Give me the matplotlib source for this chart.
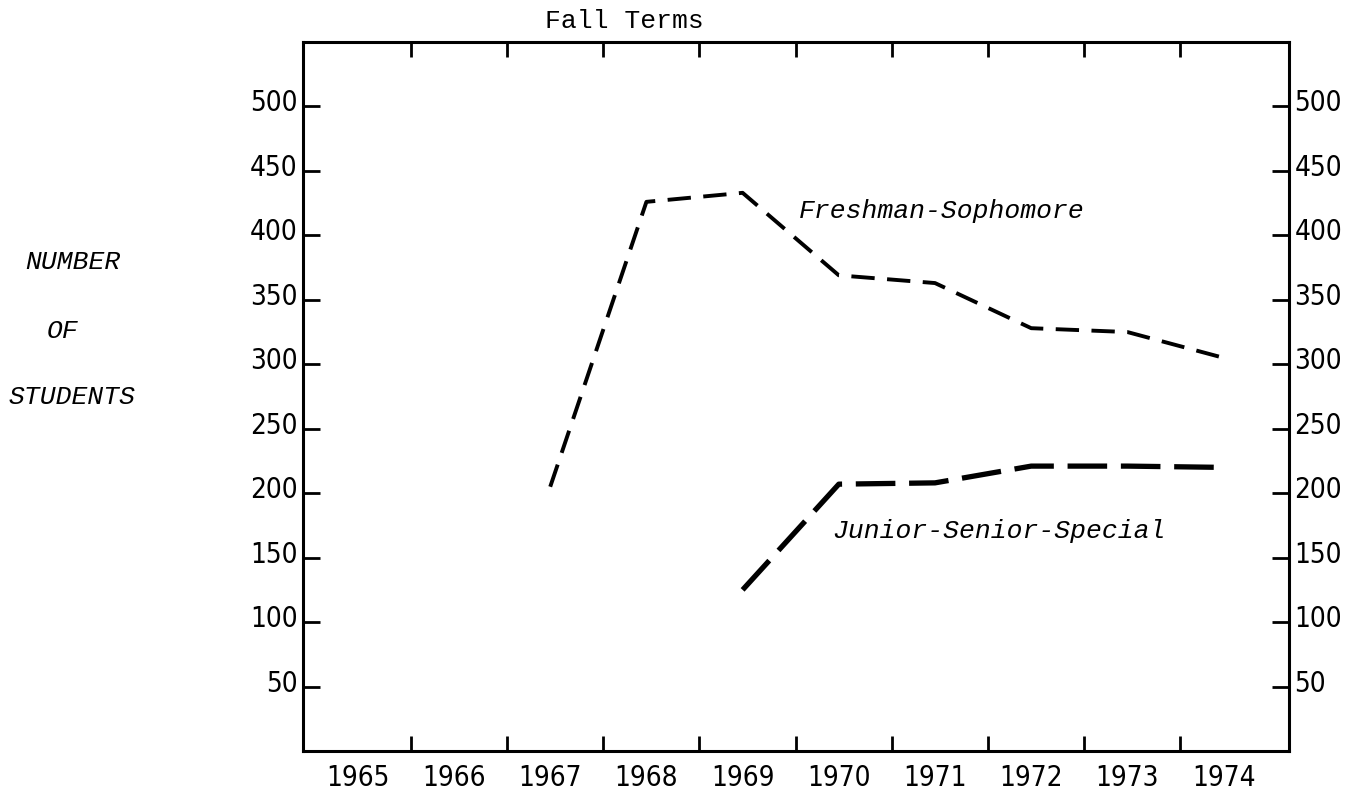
import numpy as np
import matplotlib
matplotlib.use('Agg')
import matplotlib.pyplot as plt
from matplotlib.transforms import ScaledTranslation

# ---- data ----
years = [1965, 1966, 1967, 1968, 1969, 1970, 1971, 1972, 1973, 1974]
fresh_years = [1967, 1968, 1969, 1970, 1971, 1972, 1973, 1974]
fresh_soph = [205, 426, 433, 369, 363, 328, 325, 305]
junior_years = [1969, 1970, 1971, 1972, 1973, 1974]
junior_senior = [125, 207, 208, 221, 221, 220]
y_ticks = [50, 100, 150, 200, 250, 300, 350, 400, 450, 500]

MONO = 'Liberation Mono'
NUM = dict(family='DejaVu Sans', stretch='condensed', size=20)

fig = plt.figure(figsize=(13.56, 7.91), dpi=100)
ax = fig.add_axes([303 / 1356, 1 - 751 / 791, 986 / 1356, 709 / 791])

ax.plot(fresh_years, fresh_soph, color='black', lw=2.8,
        dashes=(6.0, 3.2), solid_joinstyle='miter')
ax.plot(junior_years, junior_senior, color='black', lw=3.8,
        dashes=(7.5, 2.6))

ax.set_xlim(1964.43, 1974.68)
ax.set_ylim(0, 550)

for s in ax.spines.values():
    s.set_linewidth(2.2)

# year labels sit in the middle of the tick intervals
ax.set_xticks(years)
ax.set_xticklabels([str(y) for y in years], fontdict=NUM)
ax.tick_params(axis='x', which='major', length=0, pad=9)
ax.set_xticks([y + 0.55 for y in years[:-1]], minor=True)
ax.tick_params(axis='x', which='minor', direction='in', length=11, width=2,
               top=True, bottom=True)

ax.set_yticks(y_ticks)
ax.set_yticklabels([str(v) for v in y_ticks], fontdict=NUM)
ax.tick_params(axis='y', direction='in', length=12, width=2, pad=4,
               left=True, right=True, labelleft=True, labelright=True)
ax.yaxis.set_minor_locator(matplotlib.ticker.NullLocator())

# labels in the scan sit a little above their ticks
shift = ScaledTranslation(0, 6 / 100, fig.dpi_scale_trans)
for t in ax.yaxis.get_major_ticks():
    t.label1.set_transform(t.label1.get_transform() + shift)
    t.label2.set_transform(t.label2.get_transform() + shift)

ax.text(1969.58, 419, 'Freshman-Sophomore', family=MONO, style='italic',
        size=19, va='center', ha='left')
ax.text(1969.93, 171, 'Junior-Senior-Special', family=MONO, style='italic',
        size=19, va='center', ha='left')

fig.text(624 / 1356, 1 - 21 / 791, 'Fall Terms', family=MONO, size=19,
         ha='center', va='center')
fig.text(73 / 1356, 1 - 262 / 791, 'NUMBER', family=MONO, style='italic',
         size=19, ha='center', va='center')
fig.text(63 / 1356, 1 - 331 / 791, 'OF', family=MONO, style='italic',
         size=19, ha='center', va='center')
fig.text(72 / 1356, 1 - 397 / 791, 'STUDENTS', family=MONO, style='italic',
         size=19, ha='center', va='center')

fig.savefig('out.png', dpi=100)
